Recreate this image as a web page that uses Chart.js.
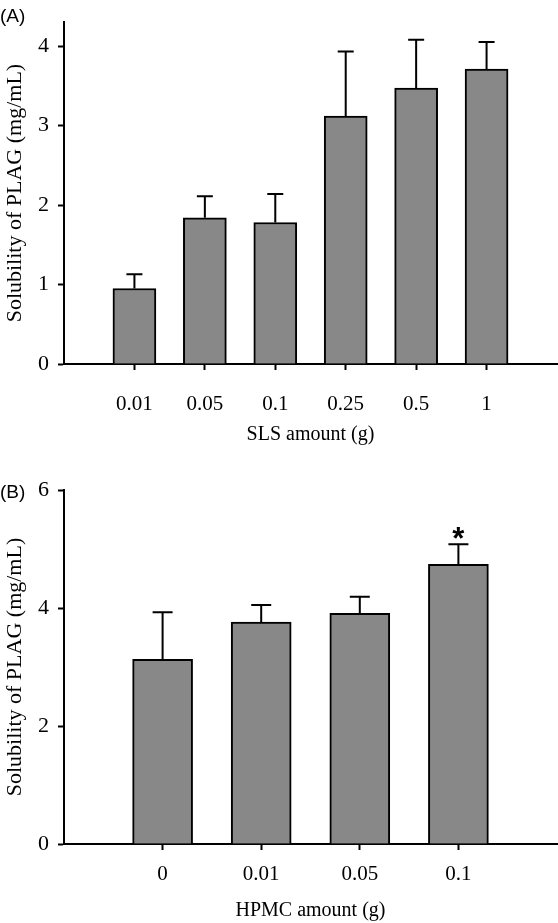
<!DOCTYPE html>
<html lang="en">
<head>
<meta charset="UTF-8">
<title>Solubility of PLAG</title>
<script src="https://cdn.jsdelivr.net/npm/chart.js"></script>
<style>
    body { margin: 0; background: #fff; }
    .panel { position: absolute; left: 0; width: 558px; }
    #panelA { top: 0; height: 462px; }
    #panelB { top: 462px; height: 461px; }
    .tag {
        position: absolute; left: 0;
        font-family: "Liberation Sans", Arial, sans-serif;
        font-size: 19px; line-height: 1;
    }
</style>
</head>
<body>
<div class="panel" id="panelA"><canvas id="chartA"></canvas></div>
<div class="panel" id="panelB"><canvas id="chartB"></canvas></div>
<div class="tag" style="top:6px">(A)</div>
<div class="tag" style="top:482px">(B)</div>
<script>
    // (A) SLS amount
    const slsAmounts = ['0.01', '0.05', '0.1', '0.25', '0.5', '1'];
    const slsMeans = [0.95, 1.84, 1.78, 3.12, 3.47, 3.71];
    const slsSD = [0.18, 0.27, 0.36, 0.81, 0.61, 0.34];
    const slsTicks = [0, 1, 2, 3, 4];

    // (B) HPMC amount
    const hpmcAmounts = ['0', '0.01', '0.05', '0.1'];
    const hpmcMeans = [3.13, 3.76, 3.91, 4.74];
    const hpmcSD = [0.80, 0.29, 0.28, 0.34];
    const hpmcMarks = ['', '', '', '*'];
    const hpmcTicks = [0, 2, 4, 6];

    const serif = '"Liberation Serif", "Times New Roman", serif';

    // error bars (upper only) and significance marks
    const errorBars = {
        id: 'errorBars',
        afterDatasetsDraw(chart, args, o) {
            const ctx = chart.ctx;
            const x = chart.scales.x, y = chart.scales.y;
            ctx.save();
            ctx.strokeStyle = '#000';
            ctx.lineWidth = 2;
            o.means.forEach((m, i) => {
                const px = x.getPixelForValue(i + 1);
                const top = y.getPixelForValue(m + o.sd[i]);
                const base = y.getPixelForValue(m);
                ctx.beginPath();
                ctx.moveTo(px, base);
                ctx.lineTo(px, top);
                ctx.moveTo(px - o.cap, top);
                ctx.lineTo(px + o.cap, top);
                ctx.stroke();
                if (o.marks && o.marks[i]) {
                    ctx.fillStyle = '#000';
                    ctx.font = 'bold 31px "Liberation Sans", Arial, sans-serif';
                    ctx.textAlign = 'center';
                    ctx.textBaseline = 'alphabetic';
                    ctx.fillText(o.marks[i], px, top + 5);
                }
            });
            ctx.restore();
        }
    };

    function makeChart(id, cfg) {
        const n = cfg.labels.length;
        return new Chart(document.getElementById(id), {
            type: 'bar',
            data: {
                datasets: [{
                    data: cfg.means.map((m, i) => ({ x: i + 1, y: m })),
                    backgroundColor: '#888888',
                    borderColor: '#000',
                    borderWidth: 2,
                    barThickness: cfg.barWidth
                }]
            },
            options: {
                responsive: true,
                maintainAspectRatio: false,
                animation: false,
                layout: { padding: { top: cfg.padTop, right: 1, left: 0, bottom: 0 } },
                plugins: {
                    legend: { display: false },
                    tooltip: { enabled: false },
                    errorBars: { means: cfg.means, sd: cfg.sd, cap: cfg.cap, marks: cfg.marks }
                },
                scales: {
                    x: {
                        type: 'linear',
                        min: 0,
                        max: n + 1,
                        offset: false,
                        afterBuildTicks: s => { s.ticks = cfg.labels.map((_, i) => ({ value: i + 1 })); },
                        afterFit: s => { s.height = cfg.xHeight; },
                        ticks: {
                            callback: v => cfg.labels[v - 1],
                            color: '#000',
                            font: { family: serif, size: 21 },
                            padding: cfg.xTickPad,
                            maxRotation: 0,
                            autoSkip: false
                        },
                        grid: { offset: false, drawOnChartArea: false, tickLength: 6, tickColor: '#000', tickWidth: 2 },
                        border: { color: '#000', width: 2 },
                        title: {
                            display: true,
                            text: cfg.xTitle,
                            color: '#000',
                            font: { family: serif, size: 20 },
                            padding: { top: 0, bottom: cfg.xTitlePad }
                        }
                    },
                    y: {
                        min: 0,
                        max: cfg.yMax,
                        afterBuildTicks: s => { s.ticks = cfg.yTicks.map(v => ({ value: v })); },
                        afterFit: s => { s.width = 64; },
                        ticks: {
                            color: '#000',
                            font: { family: serif, size: 22 },
                            padding: 9
                        },
                        grid: { drawOnChartArea: false, tickLength: 6, tickColor: '#000', tickWidth: 2 },
                        border: { color: '#000', width: 2 },
                        title: {
                            display: true,
                            text: 'Solubility of PLAG (mg/mL)',
                            color: '#000',
                            font: { family: serif, size: 22 },
                            padding: { top: 2, bottom: 0 }
                        }
                    }
                }
            },
            plugins: [errorBars]
        });
    }

    makeChart('chartA', {
        labels: slsAmounts, means: slsMeans, sd: slsSD, marks: null,
        yMax: 4.3, yTicks: slsTicks, barWidth: 43, cap: 8,
        padTop: 10, xHeight: 98, xTickPad: 22, xTitle: 'SLS amount (g)', xTitlePad: 15
    });

    makeChart('chartB', {
        labels: hpmcAmounts, means: hpmcMeans, sd: hpmcSD, marks: hpmcMarks,
        yMax: 6, yTicks: hpmcTicks, barWidth: 60, cap: 10,
        padTop: 28, xHeight: 79, xTickPad: 12, xTitle: 'HPMC amount (g)', xTitlePad: 0
    });
</script>
</body>
</html>
